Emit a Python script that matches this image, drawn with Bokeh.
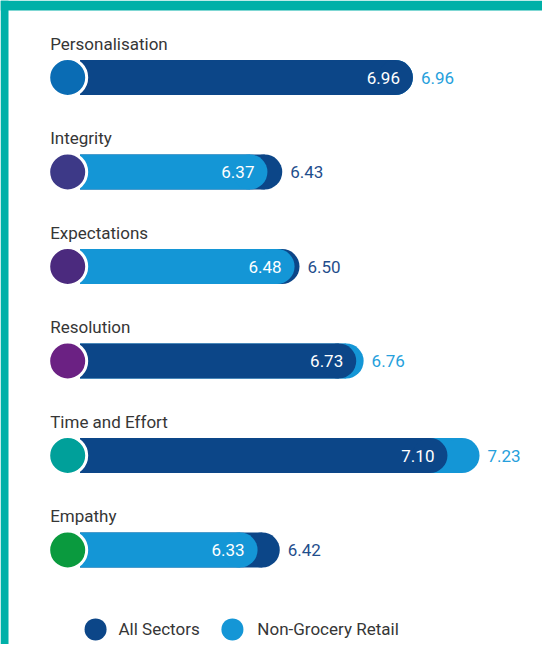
from bokeh.plotting import figure
from bokeh.models import Range1d
from bokeh.core.properties import value
from bokeh.embed import file_html
from bokeh.resources import INLINE

# ---- data ----
categories = ["Personalisation", "Integrity", "Expectations", "Resolution", "Time and Effort", "Empathy"]
all_sectors = [6.96, 6.43, 6.50, 6.73, 7.10, 6.42]
non_grocery = [6.96, 6.37, 6.48, 6.76, 7.23, 6.33]
dim_colors = ["#0a6cb4", "#3d3987", "#4b2a7e", "#6b2183", "#00a09a", "#0a9a3e"]
series_names = ["All Sectors", "Non-Grocery Retail"]

DARK = "#0c4688"
LIGHT = "#1496d6"
DARK_TXT = "#1f4e8c"
LIGHT_TXT = "#26a0dc"
LABEL_TXT = "#363636"
TEAL = "#00b0a8"
FONT = "Roboto"

# ---- geometry ----
W, H = 542, 644
PXU = 246.6                     # px per score unit
X0 = 5.2875
PXY = 94.5
Y_TOP = -77 / PXY
Y_BOT = Y_TOP + H / PXY
BASE = 5.61
DOT_X = BASE - 0.05
BAR_PX = 35
BAR_H = BAR_PX / PXY
R = (BAR_PX / 2) / PXU
X1 = X0 + W / PXU

p = figure(width=W, height=H, output_backend="svg", toolbar_location=None,
           x_range=Range1d(X0, X1), y_range=Range1d(Y_BOT, Y_TOP),
           x_axis_type=None, y_axis_type=None, min_border=0,
           outline_line_color=None, background_fill_color="white", border_fill_color="white")
p.grid.visible = False

# frame strips
p.quad(left=[X0, X0], right=[X1, X0 + 8 / PXU], top=[Y_TOP, Y_TOP], bottom=[Y_TOP + 10 / PXY, Y_BOT],
       fill_color=TEAL, line_color=None)

rows = list(range(len(categories)))
back_v, back_c, front_v, front_c, out_c = [], [], [], [], []
for a, n in zip(all_sectors, non_grocery):
    if a > n:
        back_v.append(a); back_c.append(DARK); out_c.append(DARK_TXT)
        front_v.append(n); front_c.append(LIGHT)
    else:
        back_v.append(n); back_c.append(LIGHT); out_c.append(LIGHT_TXT)
        front_v.append(a); front_c.append(DARK)

for vals, cols in ((back_v, back_c), (front_v, front_c)):
    ends = [v - R for v in vals]
    p.hbar(y=rows, left=BASE, right=ends, height=BAR_H, fill_color=cols, line_color=None)
    p.scatter(x=ends, y=rows, size=BAR_PX, marker="circle", fill_color=cols, line_color=None)

# dimension dots
p.scatter(x=[DOT_X] * len(rows), y=rows, size=38, marker="circle",
          fill_color=dim_colors, line_color="white", line_width=3)

# category labels
p.text(x=[DOT_X] * len(rows), y=rows, text=categories, x_offset=-BAR_PX / 2, y_offset=-34,
       text_align="left", text_baseline="middle", text_color=LABEL_TXT,
       text_font=value(FONT), text_font_size="17px")

# inside labels
p.text(x=front_v, y=rows, text=[f"{v:.2f}" for v in front_v], x_offset=-13,
       text_align="right", text_baseline="middle", text_color="white",
       text_font=value(FONT), text_font_size="17px")

# outside labels
p.text(x=back_v, y=rows, text=[f"{v:.2f}" for v in back_v], x_offset=8,
       text_align="left", text_baseline="middle", text_color=out_c,
       text_font=value(FONT), text_font_size="17px")

# legend
LEG_Y = len(categories) - 0.16
leg_dot_x = [5.673, 6.228]
leg_txt_x = [5.766, 6.329]
p.scatter(x=leg_dot_x, y=[LEG_Y] * 2, size=22, marker="circle",
          fill_color=[DARK, LIGHT], line_color=None)
p.text(x=leg_txt_x, y=[LEG_Y] * 2, text=series_names, text_align="left",
       text_baseline="middle", text_color=LABEL_TXT,
       text_font=value(FONT), text_font_size="17px")

open("out.html", "w").write(file_html(p, INLINE))
